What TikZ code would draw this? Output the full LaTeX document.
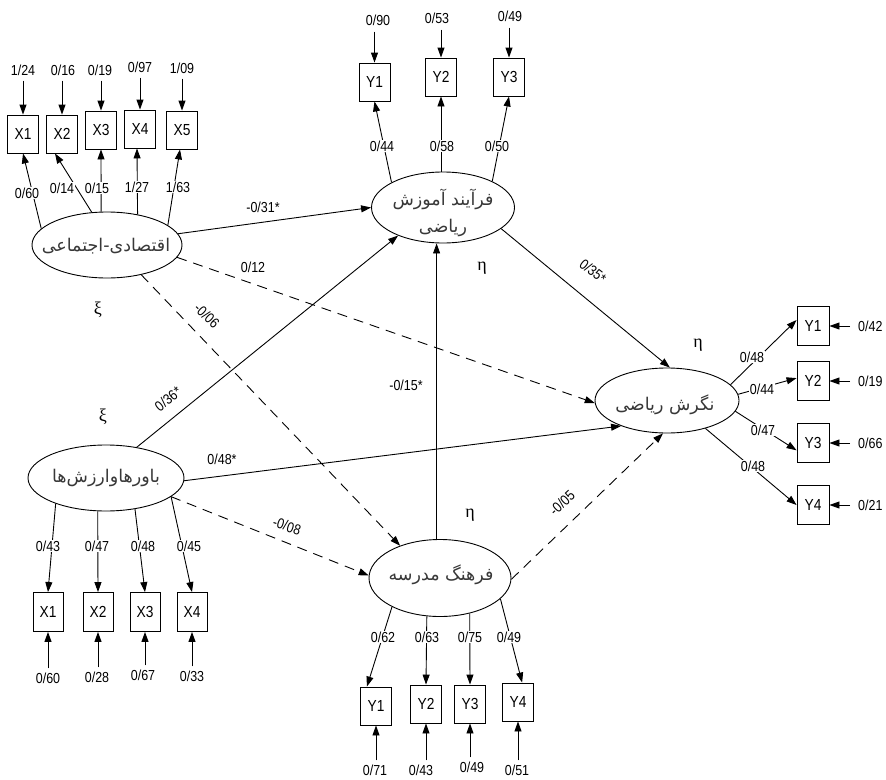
\documentclass[tikz,border=0pt]{standalone}
\usepackage{fontspec}
\setmainfont[FakeStretch=0.86]{Liberation Sans}
\newfontfamily\fa[Script=Arabic]{DejaVu Sans}
\newfontfamily\grk{Liberation Serif}
\TeXXeTstate=1
\usetikzlibrary{shapes.geometric,arrows.meta}
\begin{document}
\begin{tikzpicture}[x=1pt,y=-1pt,
  lat/.style={ellipse, draw, line width=0.9pt, inner sep=0pt},
  obs/.style={rectangle, draw, line width=0.9pt, minimum width=31pt, minimum height=38pt, inner sep=0pt, font=\fontsize{16}{18}\selectfont},
  num/.style={font=\fontsize{14.5}{16}\selectfont, inner sep=1pt},
  lnum/.style={num, fill=white},
  fat/.style={font=\fa\fontsize{17.5}{27}\selectfont, text=black!78, align=center, inner sep=0pt},
  gk/.style={font=\grk\fontsize{18}{20}\selectfont, inner sep=0pt},
  ln/.style={line width=0.9pt},
  arr/.style={ln, -{Triangle[length=10pt,width=7pt]}},
  dsh/.style={arr, dash pattern=on 10pt off 7pt}]
\fill[white] (0,0) rectangle (886,779);
\useasboundingbox (0,0) rectangle (886,779);

% latent variables
\node[lat, minimum width=150pt, minimum height=66pt] (E1) at (107,245) {};
\node[fat] (E1t) at (106,246) {\beginR اقتصادی-اجتماعی\endR};
\node[lat, minimum width=156pt, minimum height=66pt] (E2) at (106,478) {};
\node[fat] (E2t) at (106,478) {\beginR باورهاوارزش^^^^200cها\endR};
\node[lat, minimum width=143pt, minimum height=71pt] (E3) at (443,207.5) {};
\node[fat] (E3t) at (443,213) {\beginR فرآیند آموزش\endR\\\beginR ریاضی\endR};
\node[lat, minimum width=144pt, minimum height=65pt] (E4) at (667,400.5) {};
\node[fat] (E4t) at (665,405) {\beginR نگرش ریاضی\endR};
\node[lat, minimum width=142pt, minimum height=77pt] (E5) at (440,578) {};
\node[fat] (E5t) at (441,575) {\beginR فرهنگ مدرسه\endR};

% greek labels
\node[gk] (g1) at (98,310) {ξ};
\node[gk] (g2) at (103,417) {ξ};
\node[gk] (g3) at (482,268) {η};
\node[gk] (g4) at (698,345) {η};
\node[gk] (g5) at (470,515) {η};

% top-left indicators
\node[obs] (X1) at (23,134) {X1};
\node[obs] (X2) at (62,134) {X2};
\node[obs] (X3) at (101,130) {X3};
\node[obs] (X4) at (140,129) {X4};
\node[obs] (X5) at (182,130) {X5};
\node[num] (eX1) at (23,70) {1/24};
\node[num] (eX2) at (63,70) {0/16};
\node[num] (eX3) at (100,70) {0/19};
\node[num] (eX4) at (140,67) {0/97};
\node[num] (eX5) at (182,68) {1/09};
\foreach \i in {1,...,5}{\draw[arr] ([yshift=-4pt]eX\i.south -| X\i.north) -- (X\i.north);}
\draw[arr] (E1.166) -- (X1.south);
\draw[arr] (E1.115) -- ([xshift=-7pt]X2.south);
\draw[arr] (E1.100) -- (X3.south);
\draw[arr] (E1.45) -- ([xshift=-3pt]X4.south);
\draw[arr] (E1.18) -- ([xshift=-2pt]X5.south);

% top indicators
\node[obs] (Y1) at (374.5,82) {Y1};
\node[obs] (Y2) at (441,77) {Y2};
\node[obs] (Y3) at (509,77) {Y3};
\node[num] (eY1) at (378,20) {0/90};
\node[num] (eY2) at (437,18) {0/53};
\node[num] (eY3) at (510,16) {0/49};
\foreach \i in {1,2,3}{\draw[arr] ([yshift=-5pt]eY\i.south -| Y\i.north) -- (Y\i.north);}
\draw[arr] (E3.154) -- (Y1.south);
\draw[arr] (E3.90 -| Y2.south) -- (Y2.south);
\draw[arr] (E3.28) -- (Y3.south);

% right indicators
\node[obs, minimum width=32pt, minimum height=39pt] (R1) at (813,326) {Y1};
\node[obs, minimum width=32pt, minimum height=39pt] (R2) at (813,381) {Y2};
\node[obs, minimum width=32pt, minimum height=39pt] (R3) at (813,443) {Y3};
\node[obs, minimum width=32pt, minimum height=39pt] (R4) at (813,505) {Y4};
\node[num, anchor=west] (eR1) at (857,326) {0/42};
\node[num, anchor=west] (eR2) at (857,381) {0/19};
\node[num, anchor=west] (eR3) at (857,443) {0/66};
\node[num, anchor=west] (eR4) at (857,505) {0/21};
\foreach \i in {1,...,4}{\draw[arr] ([xshift=-7pt]eR\i.west) -- (R\i.east);}
\draw[arr] (E4.14) -- (R1.160);
\draw[arr] (E4.5) -- (R2.170);
\draw[arr] (E4.-9) -- (R3.204);
\draw[arr] (E4.-36) -- (R4.west);

% bottom-left indicators
\node[obs, minimum width=30pt, minimum height=39pt] (B1) at (48,612) {X1};
\node[obs, minimum width=30pt, minimum height=39pt] (B2) at (98,612) {X2};
\node[obs, minimum width=30pt, minimum height=39pt] (B3) at (145,612) {X3};
\node[obs, minimum width=30pt, minimum height=39pt] (B4) at (192,612) {X4};
\node[num] (eB1) at (48,678) {0/60};
\node[num] (eB2) at (97,677) {0/28};
\node[num] (eB3) at (143,675) {0/67};
\node[num] (eB4) at (192,676) {0/33};
\foreach \i in {1,...,4}{\draw[arr] ([yshift=3pt]eB\i.north -| B\i.south) -- (B\i.south);}
\draw[arr] (E2.207) -- (B1.north);
\draw[arr] (E2.256) -- (B2.north);
\draw[arr] (E2.313) -- (B3.north);
\draw[arr] (E2.344) -- (B4.north);

% bottom indicators
\node[obs] (C1) at (376,706) {Y1};
\node[obs] (C2) at (426,704) {Y2};
\node[obs] (C3) at (470,704) {Y3};
\node[obs] (C4) at (518,702) {Y4};
\node[num] (eC1) at (375,770) {0/71};
\node[num] (eC2) at (421,770) {0/43};
\node[num] (eC3) at (472,767) {0/49};
\node[num] (eC4) at (517,770) {0/51};
\foreach \i in {1,...,4}{\draw[arr] ([yshift=3pt]eC\i.north -| C\i.south) -- (C\i.south);}
\draw[arr] (E5.211) -- (C1.115);
\draw[arr] (E5.251) -- (C2.north);
\draw[arr] (E5.310) -- (C3.north);
\draw[arr] (E5.341) -- (C4.78);

% structural paths
\draw[arr] (E1.9) -- (E3.180);
\draw[dsh] (E1.-10) -- (E4.182);
\draw[dsh] (E1.-41) -- (E5.141);
\draw[arr] (E2.45) -- (E3.212);
\draw[arr] (E2.-2) -- (E4.209);
\draw[dsh] (E2.-16) -- (E5.178);
\draw[arr] (E5.95) -- (E5.95 |- E3.south);
\draw[dsh] (E5.-1) -- (E4.263);
\draw[arr] (E3.-20) -- (E4.85);

% loading labels
\node[lnum] (l1) at (27,193) {0/60};
\node[lnum] (l2) at (62,188) {0/14};
\node[lnum] (l3) at (97,188) {0/15};
\node[lnum] (l4) at (137,187) {1/27};
\node[lnum] (l5) at (178,187) {1/63};
\node[lnum] (l6) at (382,146) {0/44};
\node[lnum] (l7) at (442,146) {0/58};
\node[lnum] (l8) at (497,146) {0/50};
\node[lnum] (l9) at (752,357) {0/48};
\node[lnum] (l10) at (762,389) {0/44};
\node[lnum] (l11) at (763,430) {0/47};
\node[lnum] (l12) at (753,466) {0/48};
\node[lnum] (l13) at (48,546) {0/43};
\node[lnum] (l14) at (97,546) {0/47};
\node[lnum] (l15) at (143,546) {0/48};
\node[lnum] (l16) at (189,546) {0/45};
\node[lnum] (l17) at (383,637) {0/62};
\node[lnum] (l18) at (427,637) {0/63};
\node[lnum] (l19) at (470,637) {0/75};
\node[lnum] (l20) at (509,637) {0/49};

% structural labels
\node[num] (s1) at (263,207) {-0/31*};
\node[num] (s2) at (253,267) {0/12};
\node[num, rotate=-44] (s3) at (207,316) {-0/06};
\node[num, rotate=39] (s4) at (168,399) {0/36*};
\node[num] (s5) at (222,459) {0/48*};
\node[num, rotate=-18] (s6) at (287,526) {-0/08};
\node[num] (s7) at (406,385) {-0/15*};
\node[num, rotate=43] (s8) at (562,503) {-0/05};
\node[num, rotate=-38] (s9) at (593,271) {0/35*};
\end{tikzpicture}
\end{document}
